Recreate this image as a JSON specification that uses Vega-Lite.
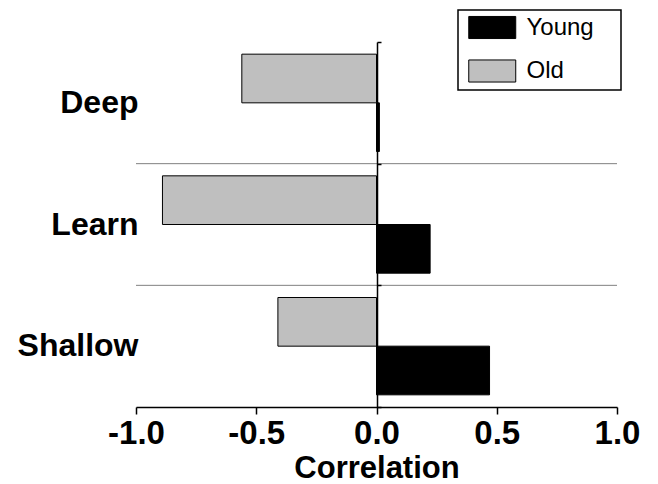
{
  "$schema": "https://vega.github.io/schema/vega-lite/v6.json",
  "width": 481,
  "height": 365,
  "autosize": {"type": "none"},
  "padding": {"left": 136, "top": 42, "right": 41, "bottom": 77},
  "background": "white",
  "config": {"view": {"stroke": null}, "font": "Liberation Sans"},
  "datasets": {
    "bars": [
      {"cat": "Deep", "group": "Old", "r": -0.56},
      {"cat": "Deep", "group": "Young", "r": 0.012},
      {"cat": "Learn", "group": "Old", "r": -0.89},
      {"cat": "Learn", "group": "Young", "r": 0.223},
      {"cat": "Shallow", "group": "Old", "r": -0.41},
      {"cat": "Shallow", "group": "Young", "r": 0.47}
    ],
    "seps": [{"cat": "Learn"}, {"cat": "Shallow"}]
  },
  "resolve": {"axis": {"y": "independent"}},
  "layer": [
    {
      "data": {"name": "seps"},
      "mark": {"type": "rule", "color": "#808080", "strokeWidth": 1},
      "encoding": {
        "y": {
          "field": "cat",
          "type": "nominal",
          "bandPosition": 0,
          "scale": {"domain": ["Deep", "Learn", "Shallow"], "paddingInner": 0, "paddingOuter": 0},
          "axis": {
            "orient": "left",
            "title": null,
            "domain": false,
            "ticks": false,
            "grid": false,
            "labelPadding": -2,
            "labelFont": "Liberation Sans",
            "labelFontWeight": "bold",
            "labelFontSize": 32,
            "labelColor": "black",
            "labelBaseline": "middle"
          }
        }
      }
    },
    {
      "data": {"name": "bars"},
      "mark": {"type": "bar", "stroke": "black", "strokeWidth": 1},
      "encoding": {
        "y": {"field": "cat", "type": "nominal", "axis": null},
        "yOffset": {
          "field": "group",
          "scale": {"domain": ["Old", "Young"], "paddingOuter": 0.25, "paddingInner": 0}
        },
        "x": {
          "field": "r",
          "type": "quantitative",
          "scale": {"domain": [-1, 1], "nice": false},
          "axis": {
            "values": [-1, -0.5, 0, 0.5, 1],
            "labelExpr": "datum.value < 0 ? '-' + format(abs(datum.value), '.1f') : format(datum.value, '.1f')",
            "grid": false,
            "domainColor": "black",
            "domainWidth": 1.5,
            "tickColor": "black",
            "tickWidth": 1.5,
            "tickSize": 7,
            "labelFont": "Liberation Sans",
            "labelFontWeight": "bold",
            "labelFontSize": 33,
            "labelColor": "black",
            "labelPadding": 3,
            "labelFlush": false,
            "labelOverlap": false,
            "title": "Correlation",
            "titleFont": "Liberation Sans",
            "titleFontWeight": "bold",
            "titleFontSize": 31,
            "titleColor": "black",
            "titlePadding": 3
          }
        },
        "color": {
          "field": "group",
          "type": "nominal",
          "scale": {"domain": ["Young", "Old"], "range": ["#000000", "#bfbfbf"]},
          "legend": {
            "orient": "none",
            "legendX": 322,
            "legendY": -32,
            "title": null,
            "strokeColor": "black",
            "fillColor": "white",
            "padding": 5,
            "rowPadding": 16.5,
            "symbolType": "M-2,-0.94H2V0.94H-2ZM10.34,0",
            "symbolSize": 552,
            "symbolOffset": 16.75,
            "symbolStrokeColor": "black",
            "symbolStrokeWidth": 1,
            "labelOffset": 21.75,
            "labelFont": "Liberation Sans",
            "labelFontSize": 24,
            "labelColor": "black",
            "encode": {"legend": {"update": {"strokeWidth": {"value": 1.5}}}}
          }
        }
      }
    },
    {
      "data": {"name": "seps"},
      "mark": {"type": "point", "opacity": 0},
      "encoding": {
        "y": {
          "field": "cat",
          "type": "nominal",
          "axis": {
            "orient": "right",
            "offset": -240,
            "title": null,
            "labels": false,
            "grid": false,
            "domainColor": "black",
            "domainWidth": 1.5,
            "tickBand": "extent",
            "tickColor": "black",
            "tickWidth": 1.5,
            "tickSize": 4,
            "zindex": 1
          }
        },
        "x": {"datum": 0, "type": "quantitative"}
      }
    }
  ]
}
